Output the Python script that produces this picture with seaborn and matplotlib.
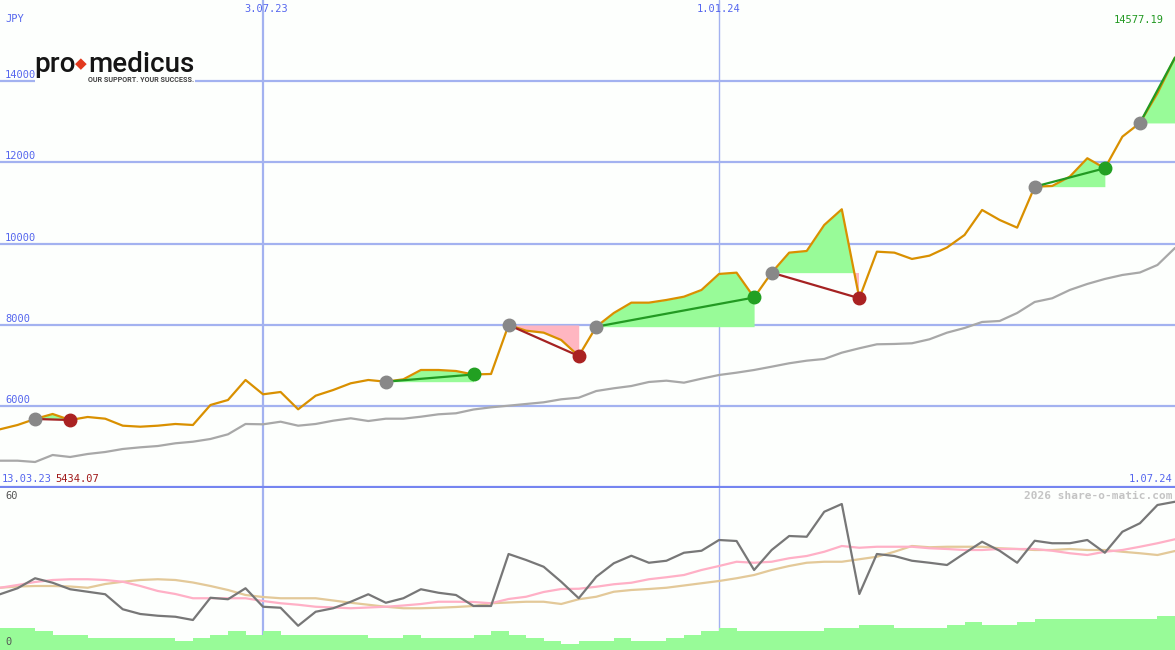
import numpy as np
import pandas as pd
import matplotlib
matplotlib.use("Agg")
import matplotlib.pyplot as plt
import matplotlib.dates as mdates
from matplotlib.patches import Rectangle
import seaborn as sns

# ---------------- data ----------------
dates = pd.date_range("2023-03-20", periods=68, freq="7D")

price = [5434.07, 5540, 5688, 5811, 5663, 5737, 5695, 5523, 5498, 5523,
         5565, 5540, 6032, 6155, 6647, 6295, 6352, 5926, 6261, 6401,
         6566, 6647, 6605, 6664, 6893, 6893, 6868, 6782, 6795, 8000,
         7860, 7811, 7631, 7237, 7958, 8295, 8549, 8549, 8615, 8696,
         8861, 9255, 9287, 8676, 9287, 9779, 9820, 10460, 10846, 8657,
         9803, 9779, 9624, 9705, 9906, 10214, 10829, 10583, 10394, 11402,
         11419, 11648, 12101, 11855, 12632, 12969, 13700, 14577.19]

moving_avg = [4662, 4662, 4630, 4802, 4753, 4827, 4876, 4950, 4991, 5023,
              5090, 5129, 5196, 5311, 5565, 5557, 5621, 5523, 5565, 5646,
              5705, 5638, 5695, 5695, 5744, 5803, 5828, 5921, 5975, 6015,
              6057, 6098, 6172, 6212, 6376, 6443, 6499, 6598, 6630, 6581,
              6679, 6770, 6827, 6893, 6974, 7058, 7122, 7164, 7319, 7427,
              7525, 7533, 7550, 7648, 7811, 7926, 8074, 8098, 8295, 8566,
              8657, 8861, 9009, 9132, 9230, 9291, 9476, 9894]

osc = [22.3, 24.7, 28.7, 26.9, 24.3, 23.3, 22.3, 16.3, 14.4, 13.7,
       13.3, 12.0, 20.9, 20.3, 24.7, 17.3, 16.9, 9.7, 15.3, 16.7,
       19.3, 22.3, 18.9, 20.7, 24.3, 22.9, 22.0, 17.6, 17.6, 38.4,
       36.0, 33.3, 27.3, 20.7, 29.3, 34.7, 37.7, 34.9, 35.7, 38.9,
       39.7, 44.0, 43.6, 32.0, 40.0, 45.6, 45.3, 55.3, 58.4, 22.4,
       38.4, 37.6, 35.7, 34.9, 34.0, 38.7, 43.3, 39.7, 34.9, 43.7,
       42.7, 42.7, 44.0, 38.9, 47.3, 50.7, 58.0, 59.3]

osc_pink = [24.9, 26.0, 27.2, 28.0, 28.3, 28.3, 28.0, 27.3, 25.6, 23.6,
            22.4, 20.7, 20.7, 20.7, 20.7, 19.6, 18.7, 18.1, 17.3, 17.0,
            16.7, 17.0, 17.3, 17.8, 18.4, 19.3, 19.3, 19.2, 18.7, 20.4,
            21.3, 23.2, 24.4, 24.5, 25.3, 26.3, 26.9, 28.3, 29.1, 30.0,
            32.0, 33.6, 35.3, 34.9, 35.3, 36.7, 37.6, 39.3, 41.6, 40.9,
            41.3, 41.3, 41.3, 40.7, 40.4, 40.0, 40.0, 40.4, 40.4, 40.4,
            39.7, 38.7, 38.0, 39.3, 40.0, 41.3, 42.7, 44.3]

osc_tan = [24.9, 25.4, 25.6, 25.6, 25.4, 24.9, 26.4, 27.3, 28.0, 28.3,
           28.0, 27.0, 25.6, 24.0, 22.0, 21.2, 20.7, 20.7, 20.7, 19.8,
           18.9, 18.1, 17.3, 16.7, 16.7, 16.9, 17.2, 17.6, 18.7, 19.0,
           19.3, 19.3, 18.4, 20.3, 21.3, 23.3, 24.0, 24.4, 24.9, 25.8,
           26.7, 27.6, 28.7, 30.0, 32.0, 33.6, 34.9, 35.3, 35.3, 36.3,
           37.3, 39.3, 41.6, 41.1, 41.3, 41.3, 41.3, 40.7, 40.4, 40.0,
           40.0, 40.4, 40.0, 40.0, 39.3, 38.7, 38.0, 39.6]

volume = [8.9, 8.9, 7.6, 6.0, 6.0, 4.8, 4.8, 4.8, 4.8, 4.8,
          3.6, 4.8, 6.0, 7.6, 6.0, 7.6, 6.0, 6.0, 6.0, 6.0,
          6.0, 4.8, 4.8, 6.0, 4.8, 4.8, 4.8, 6.0, 7.6, 6.0,
          4.8, 3.6, 2.5, 3.6, 3.6, 4.8, 3.6, 3.6, 4.8, 6.0,
          7.6, 8.9, 7.6, 7.6, 7.6, 7.6, 7.6, 8.9, 8.9, 10.0,
          10.0, 8.9, 8.9, 8.9, 10.0, 11.2, 10.0, 10.0, 11.2, 12.4,
          12.4, 12.4, 12.4, 12.4, 12.4, 12.4, 13.6]

trade_entry = [2, 22, 29, 34, 44, 59, 65]
trade_exit = [4, 27, 33, 43, 49, 63, 67]
trade_closed = [True, True, True, True, True, True, False]

y_ticks = [6000, 8000, 10000, 12000, 14000]
v_lines = ["2023-07-03", "2024-01-01"]
v_labels = ["3.07.23", "1.01.24"]

# ---------------- style ----------------
sns.set_style("white")
plt.rcParams["font.family"] = ["DejaVu Sans Mono", "DejaVu Sans"]

BG = "#fdfffd"
GRID = "#a3b2f0"
BLUE_TXT = "#5566ee"
ORANGE = "#d99000"
MA_GRAY = "#a8a8a8"
FILL_G = "#98fb98"
FILL_R = "#ffb6c1"
LINE_G = "#229a22"
LINE_R = "#a52222"

W, H = 1175, 650
fig = plt.figure(figsize=(W / 100, H / 100), dpi=100, facecolor=BG)

ax1 = fig.add_axes([0, 163 / H, 1, 487 / H], facecolor=BG)
ax2 = fig.add_axes([0, 0, 1, 162 / H], facecolor=BG)

xd = mdates.date2num(dates)
price_a = np.array(price, dtype=float)

# ---------- upper panel ----------
for v in y_ticks:
    ax1.axhline(v, color=GRID, lw=1.6, zorder=1)
for d, lw in zip(v_lines, [1.6, 1.0]):
    ax1.axvline(mdates.date2num(pd.Timestamp(d)), color=GRID, lw=lw, zorder=1)
    ax2.axvline(mdates.date2num(pd.Timestamp(d)), color=GRID, lw=lw, zorder=0.5)

for a, b in zip(trade_entry, trade_exit):
    xs = xd[a:b + 1]
    ys = price_a[a:b + 1]
    e = price_a[a]
    ax1.fill_between(xs, e, ys, where=ys >= e, interpolate=True,
                     color=FILL_G, lw=0, zorder=2)
    ax1.fill_between(xs, e, ys, where=ys <= e, interpolate=True,
                     color=FILL_R, lw=0, zorder=2)

sns.lineplot(x=xd, y=moving_avg, ax=ax1, color=MA_GRAY, lw=1.6, zorder=3)
sns.lineplot(x=xd, y=price, ax=ax1, color=ORANGE, lw=1.6, zorder=3)

for a, b, closed in zip(trade_entry, trade_exit, trade_closed):
    win = price_a[b] >= price_a[a]
    col = LINE_G if win else LINE_R
    ax1.plot([xd[a], xd[b]], [price_a[a], price_a[b]], color=col, lw=1.6, zorder=4)
    ax1.plot([xd[a]], [price_a[a]], marker="o", ms=9, color="#888888",
             mec="#888888", zorder=5)
    if closed:
        ax1.plot([xd[b]], [price_a[b]], marker="o", ms=9,
                 color=("#22a022" if win else "#aa2222"), zorder=5)

ax1.set_xlim(xd[0], xd[-1])
ax1.set_ylim(4015, 15993)
ax1.set_xticks([])
ax1.set_yticks([])
for s in ["top", "left", "right"]:
    ax1.spines[s].set_visible(False)
ax1.spines["bottom"].set_color("#7585f0")
ax1.spines["bottom"].set_linewidth(1.6)

# ---------- lower panel ----------
ax2.bar(xd[:-1], volume, width=7, align="edge", color=FILL_G, lw=0, zorder=1)
sns.lineplot(x=xd, y=osc_tan, ax=ax2, color="#e3c999", lw=1.6, zorder=2)
sns.lineplot(x=xd, y=osc_pink, ax=ax2, color="#ffb0c6", lw=1.6, zorder=2)
sns.lineplot(x=xd, y=osc, ax=ax2, color="#777777", lw=1.6, zorder=3)
ax2.set_xlim(xd[0], xd[-1])
ax2.set_ylim(0, 64.8)
ax2.set_xticks([])
ax2.set_yticks([])
for s in ax2.spines.values():
    s.set_visible(False)

# ---------- texts ----------
def fx(x):
    return x / W


def fy(y):
    return 1 - y / H


FS = 7.5
fig.text(fx(5), fy(19), "JPY", color=BLUE_TXT, fontsize=FS, va="center", ha="left")
for v, yy in zip(y_ticks, [400, 319, 238, 156, 75]):
    fig.text(fx(5), fy(yy), str(v), color=BLUE_TXT, fontsize=FS, va="center", ha="left")
for lab, xx in zip(v_labels, [266, 719]):
    fig.text(fx(xx), fy(9), lab, color=BLUE_TXT, fontsize=FS, va="center", ha="center")
fig.text(fx(1164), fy(20), "14577.19", color="#229922", fontsize=FS, va="center", ha="right")
fig.text(fx(2), fy(479), "13.03.23", color=BLUE_TXT, fontsize=FS, va="center", ha="left")
fig.text(fx(55), fy(479), "5434.07", color="#a01818", fontsize=FS, va="center", ha="left")
fig.text(fx(1172), fy(479), "1.07.24", color=BLUE_TXT, fontsize=FS, va="center", ha="right")
fig.text(fx(1172), fy(496), "2026 share-o-matic.com", color="#c4c4c4", fontsize=8,
         fontweight="bold", va="center", ha="right")
fig.text(fx(5), fy(496), "60", color="#555555", fontsize=FS, va="center", ha="left")
fig.text(fx(5), fy(642), "0", color="#555555", fontsize=FS, va="center", ha="left")

# logo
fig.add_artist(Rectangle((fx(35), fy(86)), (195 - 35) / W, 40 / H,
                         transform=fig.transFigure, facecolor=BG, edgecolor="none", zorder=4))
fig.text(fx(34), fy(72), "pro", color="#151515", fontsize=20, family="Roboto",
         fontweight="medium", va="baseline", ha="left", zorder=6)
fig.text(fx(81), fy(64), "\u25C6", color="#e23a1e", fontsize=11, family="DejaVu Sans",
         va="center", ha="center", zorder=6)
fig.text(fx(88), fy(72), "medicus", color="#151515", fontsize=20, family="Roboto",
         fontweight="medium", va="baseline", ha="left", zorder=6)
fig.text(fx(88), fy(80), "OUR SUPPORT. YOUR SUCCESS.", color="#444444", fontsize=5.2,
         family="Roboto", fontweight="bold", va="center", ha="left", zorder=6)

fig.savefig("out.png", dpi=100, facecolor=BG)
